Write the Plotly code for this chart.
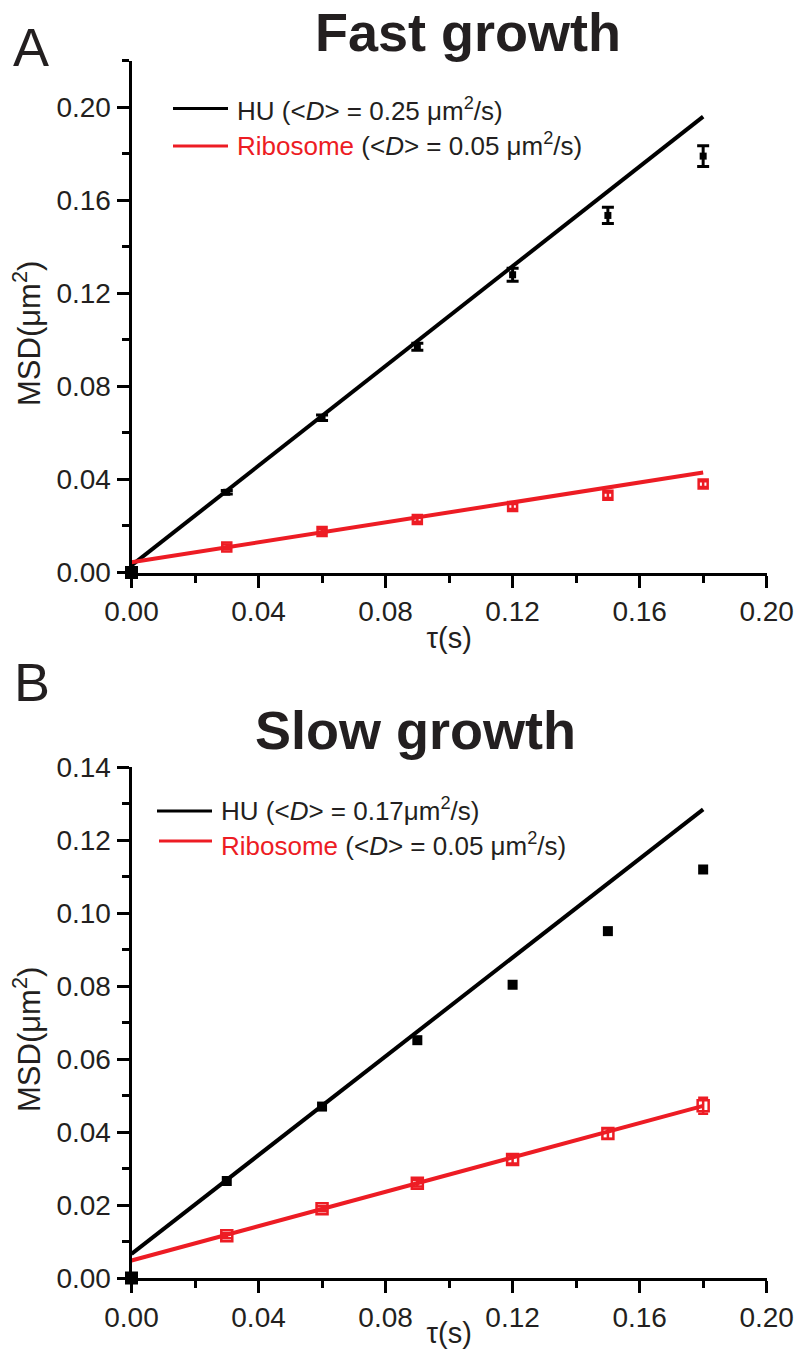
import plotly.graph_objects as go

# ---------------- data ----------------
tau = [0.0, 0.03, 0.06, 0.09, 0.12, 0.15, 0.18]

# Panel A: fast growth
hu_fast = [0.0, 0.0345, 0.0665, 0.097, 0.128, 0.1535, 0.179]
hu_fast_err = [0.0005, 0.0008, 0.0012, 0.0015, 0.0028, 0.0035, 0.0045]
rib_fast = [0.0, 0.011, 0.0176, 0.0228, 0.0284, 0.0332, 0.0380]
rib_fast_err = [0.0004, 0.001, 0.001, 0.001, 0.0011, 0.0012, 0.0012]

# Panel B: slow growth
hu_slow = [0.0, 0.0266, 0.047, 0.0652, 0.0804, 0.0951, 0.112]
rib_slow = [0.0, 0.0116, 0.019, 0.026, 0.0325, 0.0396, 0.0472]
rib_slow_err = [0.0003, 0.0007, 0.0007, 0.0009, 0.0011, 0.0014, 0.0022]

# linear fits (MSD = 4<D>tau + offset)
fit_tau = [0.0, 0.18]
hu_fast_fit = [0.003, 0.196]
rib_fast_fit = [0.0044, 0.043]
hu_slow_fit = [0.0066, 0.1285]
rib_slow_fit = [0.0048, 0.0472]

BLACK = "#000000"
TEXT = "#231f20"
RED = "#ed1c24"
FONT = "Liberation Sans, Arial, sans-serif"

W, H = 807, 1349


def px(x):
    return x / W


def py(y):
    return 1 - y / H


fig = go.Figure()


def add_panel(xa, ya, hu, hu_err, rib, rib_err, hu_fit, rib_fit, hu_size, rib_size):
    # fit lines
    fig.add_trace(go.Scatter(x=fit_tau, y=hu_fit, mode="lines", xaxis=xa, yaxis=ya,
                             line=dict(color=BLACK, width=4), showlegend=False,
                             hoverinfo="skip", cliponaxis=False))
    fig.add_trace(go.Scatter(x=fit_tau, y=rib_fit, mode="lines", xaxis=xa, yaxis=ya,
                             line=dict(color=RED, width=4), showlegend=False,
                             hoverinfo="skip", cliponaxis=False))
    # ribosome data (open squares)
    rib_kw = {}
    if rib_err is not None:
        rib_kw["error_y"] = dict(type="data", array=rib_err[1:], color=RED,
                                 thickness=2.5, width=5)
    fig.add_trace(go.Scatter(x=tau[1:], y=rib[1:], mode="markers", xaxis=xa, yaxis=ya,
                             marker=dict(symbol="square-open", size=rib_size, color=RED,
                                         line=dict(color=RED, width=2.5)),
                             showlegend=False, cliponaxis=False, **rib_kw))
    # HU data (filled squares)
    hu_kw = {}
    if hu_err is not None:
        hu_kw["error_y"] = dict(type="data", array=hu_err[1:], color=BLACK,
                                thickness=3, width=6)
    fig.add_trace(go.Scatter(x=tau[1:], y=hu[1:], mode="markers", xaxis=xa, yaxis=ya,
                             marker=dict(symbol="square", size=hu_size, color=BLACK),
                             showlegend=False, cliponaxis=False, **hu_kw))
    # point at origin
    fig.add_trace(go.Scatter(x=[tau[0]], y=[hu[0]], mode="markers", xaxis=xa, yaxis=ya,
                             marker=dict(symbol="square", size=13, color=BLACK),
                             showlegend=False, cliponaxis=False))


add_panel("x", "y", hu_fast, hu_fast_err, rib_fast, rib_fast_err,
          hu_fast_fit, rib_fast_fit, 7, 9)
add_panel("x2", "y2", hu_slow, None, rib_slow, rib_slow_err,
          hu_slow_fit, rib_slow_fit, 10, 11)

x_dom = [131.5 / W, 767 / W]
axis_common = dict(showline=True, linewidth=3, linecolor=BLACK, ticks="outside",
                   ticklen=12, tickwidth=3, tickcolor=BLACK, showgrid=False,
                   zeroline=False, tickformat=".2f", automargin=False,
                   tickfont=dict(family=FONT, size=28, color=TEXT))


def xaxis(anchor):
    d = dict(axis_common)
    d.update(domain=x_dom, range=[0, 0.2001], dtick=0.04, tick0=0, anchor=anchor,
             title=dict(text="τ(s)", font=dict(family=FONT, size=29, color=TEXT),
                        standoff=2),
             minor=dict(dtick=0.02, tick0=0, ticks="outside", ticklen=7, tickwidth=3,
                        tickcolor=BLACK))
    return d


def yaxis(anchor, dom, rng, dtick, minor_dtick):
    d = dict(axis_common)
    d.update(domain=dom, range=rng, dtick=dtick, tick0=0, anchor=anchor,
             minor=dict(dtick=minor_dtick, tick0=0, ticks="outside", ticklen=7,
                        tickwidth=3, tickcolor=BLACK))
    return d


fig.update_layout(
    template="none",
    width=W, height=H,
    margin=dict(l=0, r=0, t=0, b=0, pad=0),
    paper_bgcolor="white", plot_bgcolor="white",
    font=dict(family=FONT, color=TEXT, size=28),
    showlegend=False,
    xaxis=xaxis("y"),
    yaxis=yaxis("x", [py(572.5), py(60.5)], [0, 0.2201], 0.04, 0.02),
    xaxis2=xaxis("y2"),
    yaxis2=yaxis("x2", [py(1278), py(767)], [0, 0.1401], 0.02, 0.01),
)

ann = []


def text(x, y, s, size, **kw):
    d = dict(x=px(x), y=py(y), xref="paper", yref="paper", text=s, showarrow=False,
             font=dict(family=FONT, size=size, color=TEXT), xanchor="center",
             yanchor="middle")
    d.update(kw)
    ann.append(d)


# panel letters and titles
text(30.5, 47.5, "A", 54)
text(32, 682, "B", 54)
text(468, 32, "<b>Fast growth</b>", 54)
text(416, 730, "<b>Slow growth</b>", 54)

# y-axis titles (placed as in the original, slightly below the axis centre)
text(27, 334, "MSD(μm<sup>2</sup>)", 31, textangle=-90)
text(27, 1040, "MSD(μm<sup>2</sup>)", 31, textangle=-90)

# legends
shapes = []


def legend_row(x0, x1, y_line, x_text, y_text, color, label):
    shapes.append(dict(type="line", xref="paper", yref="paper", x0=px(x0), x1=px(x1),
                       y0=py(y_line), y1=py(y_line), line=dict(color=color, width=3)))
    text(x_text, y_text, label, 26, xanchor="left")


leg_hu_a = "HU (&lt;<i>D</i>&gt; = 0.25 μm<sup>2</sup>/s)"
leg_rib_a = f"<span style='color:{RED}'>Ribosome</span> (&lt;<i>D</i>&gt; = 0.05 μm<sup>2</sup>/s)"
leg_hu_b = "HU (&lt;<i>D</i>&gt; = 0.17μm<sup>2</sup>/s)"
leg_rib_b = f"<span style='color:{RED}'>Ribosome</span> (&lt;<i>D</i>&gt; = 0.05 μm<sup>2</sup>/s)"

legend_row(173, 228, 108.5, 235, 109, BLACK, leg_hu_a)
legend_row(173, 228, 146, 235, 144, RED, leg_rib_a)
legend_row(157, 212, 811, 219, 809, BLACK, leg_hu_b)
legend_row(159, 212, 841, 219, 844, RED, leg_rib_b)

fig.update_layout(annotations=ann, shapes=shapes)

fig.write_html("out.html")
